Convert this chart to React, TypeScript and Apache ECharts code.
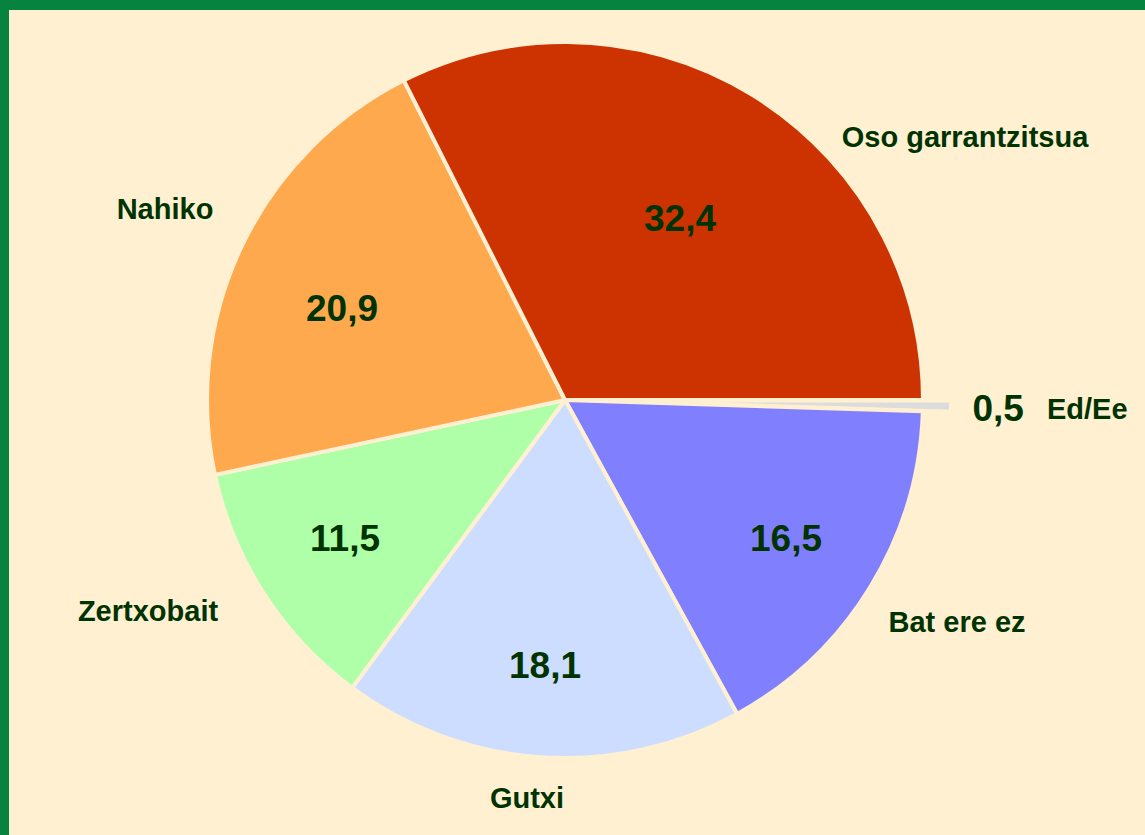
import React, { useEffect, useRef } from "react";
import * as echarts from "echarts";

const categories = ["Ed/Ee", "Bat ere ez", "Gutxi", "Zertxobait", "Nahiko", "Oso garrantzitsua"];
const values = [0.5, 16.5, 18.1, 11.5, 20.9, 32.4];
const sliceColors = ["#DCDCDC", "#8080FF", "#CCDDFF", "#AEFFA8", "#FFA94F", "#CC3300"];

// label anchor positions (text centers)
const nameLabelPos = [
  [1050, 407],
  [957, 622],
  [527, 798],
  [148, 611],
  [165, 209],
  [965, 137],
];
const valueLabelPos = [
  [998, 410],
  [786, 538],
  [545, 665],
  [345, 538],
  [342, 308],
  [680, 218],
];

const BG = "#FFF0D2";
const BORDER_GREEN = "#06833F";
const TEXT = "#003300";
const FONT = "'Liberation Sans', Arial, sans-serif";
const NAME_SIZE = 29;
const VALUE_SIZE = 37;

const fmtNum = (v: number) => String(v).replace(".", ",");

export default function App() {
  const ref = useRef<HTMLDivElement>(null);

  useEffect(() => {
    document.body.style.margin = "0";
    if (!ref.current) return;
    const chart = echarts.init(ref.current, undefined, { renderer: "svg" });

    const smallIdx = categories.indexOf("Ed/Ee");

    const data = categories.map((name, i) => ({
      name,
      value: values[i],
      selected: i === smallIdx,
      itemStyle: { color: sliceColors[i] },
      label: { show: i !== smallIdx },
    }));

    chart.setOption({
      animation: false,
      backgroundColor: BG,
      graphic: [
        { type: "rect", left: 0, top: 0, shape: { width: 1145, height: 10 }, style: { fill: BORDER_GREEN } },
        { type: "rect", left: 0, top: 0, shape: { width: 9, height: 835 }, style: { fill: BORDER_GREEN } },
      ],
      series: [
        {
          type: "pie",
          center: [565, 400],
          radius: 358,
          startAngle: 0,
          clockwise: true,
          selectedMode: "single",
          selectedOffset: 28,
          avoidLabelOverlap: false,
          emphasis: { disabled: true },
          itemStyle: { borderColor: BG, borderWidth: 4 },
          label: {
            show: true,
            position: "inside",
            formatter: (p: any) => fmtNum(p.value),
            fontSize: VALUE_SIZE,
            fontWeight: "bold",
            color: TEXT,
            fontFamily: FONT,
          },
          labelLine: { show: false },
          labelLayout: (p: any) => ({
            x: valueLabelPos[p.dataIndex][0],
            y: valueLabelPos[p.dataIndex][1],
            align: "center",
            verticalAlign: "middle",
          }),
          data,
        },
        {
          type: "pie",
          center: [565, 400],
          radius: 358,
          startAngle: 0,
          clockwise: true,
          silent: true,
          avoidLabelOverlap: false,
          emphasis: { disabled: true },
          itemStyle: { color: "transparent", borderWidth: 0 },
          label: {
            show: true,
            position: "outside",
            formatter: (p: any) =>
              p.dataIndex === smallIdx ? `{v|${fmtNum(p.value)}}{n|${p.name}}` : p.name,
            fontSize: NAME_SIZE,
            fontWeight: "bold",
            color: TEXT,
            fontFamily: FONT,
            rich: {
              v: {
                fontSize: VALUE_SIZE,
                fontWeight: "bold",
                color: TEXT,
                fontFamily: FONT,
                padding: [0, 23, 0, 0],
                lineHeight: 40,
                verticalAlign: "bottom",
              },
              n: {
                fontSize: NAME_SIZE,
                fontWeight: "bold",
                color: TEXT,
                fontFamily: FONT,
                lineHeight: 40,
                verticalAlign: "bottom",
                padding: [0, 0, 4, 0],
              },
            },
          },
          labelLine: { show: false },
          labelLayout: (p: any) => ({
            x: nameLabelPos[p.dataIndex][0],
            y: nameLabelPos[p.dataIndex][1],
            align: "center",
            verticalAlign: "middle",
          }),
          data: categories.map((name, i) => ({ name, value: values[i] })),
        },
      ],
    });

    return () => chart.dispose();
  }, []);

  return (
    <div
      ref={ref}
      style={{ position: "absolute", left: 0, top: 0, width: 1145, height: 835 }}
    />
  );
}
